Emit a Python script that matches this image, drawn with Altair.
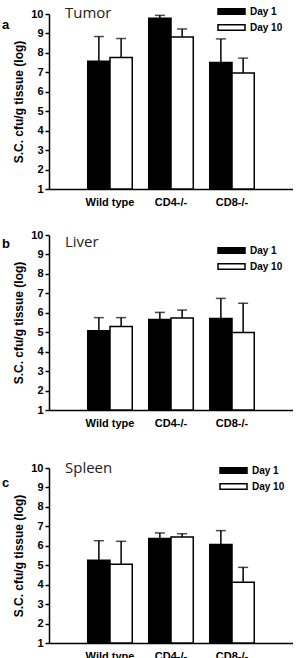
import altair as alt
import pandas as pd

groups = ["Wild type", "CD4-/-", "CD8-/-"]
days = ["Day 1", "Day 10"]

tumor_day1 = [7.57, 9.78, 7.50]
tumor_day1_sd = [1.27, 0.15, 1.22]
tumor_day10 = [7.76, 8.82, 6.96]
tumor_day10_sd = [0.98, 0.41, 0.77]

liver_day1 = [5.08, 5.66, 5.70]
liver_day1_sd = [0.67, 0.36, 1.04]
liver_day10 = [5.30, 5.73, 4.99]
liver_day10_sd = [0.45, 0.41, 1.50]

spleen_day1 = [5.25, 6.37, 6.06]
spleen_day1_sd = [1.01, 0.29, 0.72]
spleen_day10 = [5.05, 6.45, 4.12]
spleen_day10_sd = [1.18, 0.17, 0.77]

y_ticks = [1, 2, 3, 4, 5, 6, 7, 8, 9, 10]

FONT = "Liberation Sans"


def make_df(d1, d1sd, d10, d10sd):
    rows = []
    for g, m, s in zip(groups, d1, d1sd):
        rows.append({"group": g, "day": days[0], "mean": m, "top": m + s})
    for g, m, s in zip(groups, d10, d10sd):
        rows.append({"group": g, "day": days[1], "mean": m, "top": m + s})
    return pd.DataFrame(rows)


def panel(df, letter, name, letter_y, name_y, leg_x, leg_y):
    xenc = alt.X(
        "group:N", sort=groups,
        scale=alt.Scale(paddingInner=0.27, paddingOuter=0.635),
        axis=alt.Axis(title=None, ticks=False, labelAngle=0, labelPadding=7,
                      domainWidth=1.5, domainColor="black", labelFont=FONT,
                      labelFontSize=11, labelFontWeight="bold", labelColor="black",
                      labelOverlap=False),
    )
    xoff = alt.XOffset("day:N", sort=days, scale=alt.Scale(paddingInner=0, paddingOuter=0))
    yscale = alt.Scale(domain=[1, 10], nice=False, zero=False)
    yaxis = alt.Axis(values=y_ticks, title="S.C. cfu/g tissue (log)",
                     grid=False, tickSize=4, tickWidth=1.5, tickColor="black",
                     domain=True, domainWidth=1.5, domainColor="black", labelPadding=2,
                     labelFont=FONT, labelFontSize=11, labelFontWeight="bold",
                     labelColor="black", labelOverlap=False,
                     titleFont=FONT, titleFontSize=12,
                     titleFontWeight="bold", titleColor="black", titlePadding=5)
    base = alt.Chart(df).encode(x=xenc, xOffset=xoff)
    bars = base.mark_bar(stroke="black", strokeWidth=1.5).encode(
        y=alt.Y("mean:Q", scale=yscale, axis=yaxis),
        y2=alt.datum(1),
        fill=alt.Fill("day:N", sort=days,
                      scale=alt.Scale(domain=days, range=["black", "white"]),
                      legend=alt.Legend(orient="none", legendX=leg_x, legendY=leg_y,
                                        title=None, padding=0,
                                        symbolType="M-3,-0.6H3V0.6H-3Z", symbolSize=81,
                                        symbolStrokeColor="black", symbolStrokeWidth=1.5,
                                        labelOffset=13, rowPadding=3,
                                        labelFont=FONT, labelFontSize=10,
                                        labelFontWeight="bold", labelColor="black")),
    )
    rules = base.mark_rule(color="black", strokeWidth=1.5).encode(
        y=alt.Y("mean:Q", scale=yscale, axis=yaxis), y2="top:Q")
    caps = base.mark_tick(color="black", thickness=1.5, size=10, orient="horizontal").encode(
        y=alt.Y("top:Q", scale=yscale, axis=yaxis))
    let = alt.Chart(pd.DataFrame({"t": [letter]})).mark_text(
        align="left", baseline="alphabetic", font=FONT, fontSize=13,
        fontWeight="bold", color="black").encode(
        text="t:N", x=alt.value(-47), y=alt.value(letter_y))
    ttl = alt.Chart(pd.DataFrame({"t": [name]})).mark_text(
        align="left", baseline="alphabetic", font="Open Sans", fontSize=15,
        color="#222222").encode(text="t:N", x=alt.value(16), y=alt.value(name_y))
    return alt.layer(bars, rules, caps, let, ttl).properties(width=244, height=175)


pa = panel(make_df(tumor_day1, tumor_day1_sd, tumor_day10, tumor_day10_sd),
           "a", "Tumor", 15, 4, 177, -8)
pb = panel(make_df(liver_day1, liver_day1_sd, liver_day10, liver_day10_sd),
           "b", "Liver", 13, 12, 177, 10)
pc = panel(make_df(spleen_day1, spleen_day1_sd, spleen_day10, spleen_day10_sd),
           "c", "Spleen", 19, 5, 179, -3)

inner = alt.vconcat(pb, pc, spacing=58, bounds="flush").resolve_scale(fill="independent")
chart = alt.vconcat(pa, inner, spacing=46, bounds="flush").resolve_scale(
    fill="independent"
).properties(
    padding={"left": 2, "top": 6, "right": 0, "bottom": 0}
).configure_view(stroke=None)

chart.save("out.html", embed_options={"renderer": "svg", "actions": False})
